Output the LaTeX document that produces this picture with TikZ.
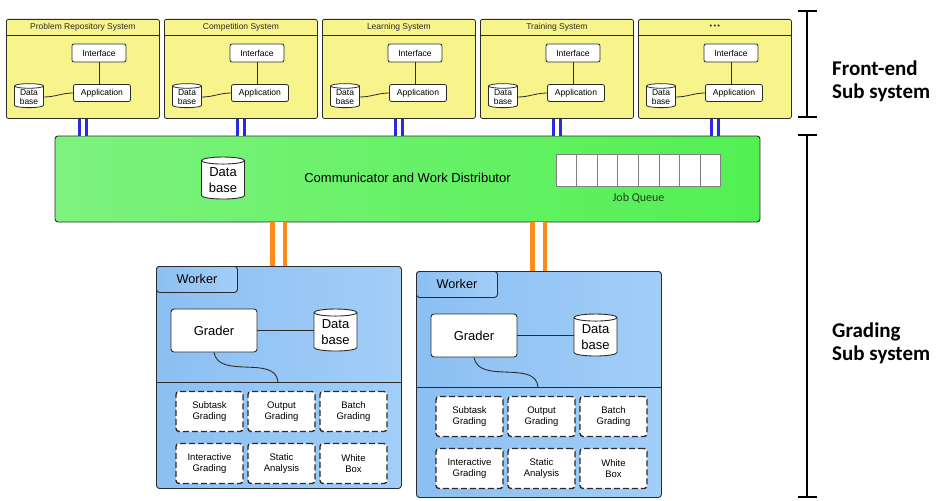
\documentclass[tikz,border=0pt]{standalone}
\usepackage{fontspec}
\setmainfont{Liberation Sans}
\newfontfamily\carlito{Carlito}
\usetikzlibrary{shapes.geometric,arrows.meta,positioning,calc}

\definecolor{sysyellow}{HTML}{F7F48C}
\definecolor{commgreen}{HTML}{52F052}
\definecolor{commlight}{HTML}{7EF27E}
\definecolor{workblue}{HTML}{8CBFF2}
\definecolor{worklight}{HTML}{A2CEF8}
\definecolor{linkblue}{HTML}{2A2AE6}
\definecolor{linkorange}{HTML}{FF8A1C}
\definecolor{edgegray}{HTML}{2B2B2B}
\definecolor{jobtext}{HTML}{1F3D1F}

\newcommand\sysdots{{\fontsize{7.5}{8}\selectfont\textbullet\,\textbullet\,\textbullet}}

\tikzset{
  sysbox/.style={draw=edgegray, fill=sysyellow, rounded corners=2pt, line width=0.8pt,
    minimum width=153pt, minimum height=99pt, inner sep=0pt},
  compbox/.style={draw=edgegray, fill=white, rounded corners=2pt, line width=0.8pt,
    inner sep=0pt, font=\fontsize{8.6}{10}\selectfont},
  dbsmall/.style={cylinder, shape border rotate=90, aspect=0.25, draw=edgegray, fill=white,
    line width=0.8pt, inner sep=0pt, minimum width=29pt, minimum height=24pt,
    align=center, font=\fontsize{8.5}{9.5}\selectfont},
  dbbig/.style={cylinder, shape border rotate=90, aspect=0.25, draw=edgegray, fill=white,
    line width=0.9pt, inner sep=0pt, minimum width=43pt, minimum height=42pt,
    align=center, font=\fontsize{13}{16}\selectfont},
  qcell/.style={draw=gray, fill=white, line width=0.8pt, minimum width=20.6pt,
    minimum height=32pt, inner sep=0pt},
  workbox/.style={draw=edgegray, left color=workblue, right color=worklight,
    rounded corners=3pt, line width=0.9pt, minimum width=245pt, inner sep=0pt},
  worktab/.style={draw=edgegray, left color=workblue, right color=worklight,
    rounded corners=3pt, line width=0.9pt, minimum width=81pt, minimum height=26pt,
    inner sep=0pt, font=\fontsize{12.7}{14}\selectfont},
  graderbox/.style={draw=edgegray, fill=white, rounded corners=3pt, line width=0.9pt,
    minimum width=86pt, minimum height=43pt, inner sep=0pt, font=\fontsize{13}{15}\selectfont},
  modbox/.style={draw=edgegray, fill=white, rounded corners=3pt, line width=1.4pt,
    dash pattern=on 6pt off 3pt, minimum width=67pt, minimum height=40pt, inner sep=0pt,
    align=center, font=\fontsize{9.5}{11.5}\selectfont},
  bluelink/.style={draw=linkblue, line width=3pt, double=white, double distance=4.5pt},
  orangelink/.style={draw=linkorange, line width=4.5pt, double=white, double distance=8pt},
  bracket/.style={line width=2.4pt, {Bar[width=19pt]}-{Bar[width=19pt]}},
  sublabel/.style={anchor=west, align=left, inner sep=0pt,
    font=\carlito\bfseries\fontsize{21}{23}\selectfont}
}

\begin{document}
\begin{tikzpicture}[x=1pt, y=-1pt]
  \useasboundingbox (0,0) rectangle (941,500);

  % Communicator
  \node[draw=edgegray, line width=0.9pt, rounded corners=3pt, shading=axis,
    left color=commlight, middle color=commgreen, right color=commgreen,
    minimum width=705pt, minimum height=86pt, inner sep=0pt,
    font=\fontsize{13}{15}\selectfont] (comm) at (407.5,179)
    {\raisebox{2pt}{Communicator and Work Distributor}};
  \node[dbbig] (cdb) at (223,180) {Data\\base};
  \foreach \k in {1,...,8}
    \node[qcell] (q\k) at (545.7+20.6*\k,170) {};
  \node[font=\carlito\fontsize{12}{14}\selectfont, text=jobtext] (jobq) at (638.5,198) {Job Queue};

  % Front-end systems
  \foreach \name [count=\i] in {Problem Repository System, Competition System,
      Learning System, Training System, \sysdots} {
    \pgfmathsetmacro\xl{6+158*(\i-1)}
    \node[sysbox, anchor=north west] (sys\i) at (\xl,19) {};
    \draw[edgegray, line width=0.8pt] ($(sys\i.north west)+(0,16)$) -- ($(sys\i.north east)+(0,16)$);
    \node[font=\fontsize{8.5}{10}\selectfont, text=edgegray] (title\i) at ($(sys\i.north)+(0,8)$) {\name};
    \node[compbox, minimum width=54pt, minimum height=18pt] (intf\i) at (\xl+93,53) {Interface};
    \node[compbox, minimum width=57pt, minimum height=17pt] (app\i) at (\xl+96,93) {Application};
    \node[dbsmall] (db\i) at (\xl+23,97) {Data\\base};
    \draw[edgegray, line width=0.8pt] (intf\i.south) -- (intf\i.south |- app\i.north);
    \draw[edgegray, line width=0.8pt] (db\i.east) to[out=0, in=180] (app\i.west);
    \draw[bluelink] (sys\i.south) -- (sys\i.south |- comm.north);
  }

  % Workers
  \foreach \wk/\xl/\yt/\hh in {1/156/266/222, 2/416/271/226} {
    \node[workbox, minimum height=\hh pt, anchor=north west] (work\wk) at (\xl,\yt) {};
    \node[worktab, anchor=north west] (tab\wk) at (work\wk.north west) {Worker};
    \draw[edgegray, line width=0.9pt] ($(work\wk.north west)+(0,116)$) -- ($(work\wk.north east)+(0,116)$);
    \coordinate (split\wk) at ($(work\wk.north west)+(122,116)$);
    \node[graderbox] (grader\wk) at ($(work\wk.north west)+(58,64.5)$) {Grader};
    \node[dbbig] (wdb\wk) at ($(work\wk.north west)+(179.5,66)$) {Data\\base};
    \draw[edgegray, line width=0.9pt] (grader\wk.east) -- (grader\wk.east -| wdb\wk.west);
    \draw[edgegray, line width=0.9pt] (grader\wk.south) to[out=-80, in=95] (split\wk);
    \foreach \lab [count=\j] in {Subtask\\Grading, Output\\Grading, Batch\\Grading,
        Interactive\\Grading, Static\\Analysis, White\\Box} {
      \pgfmathtruncatemacro\col{mod(\j-1,3)}
      \pgfmathtruncatemacro\row{(\j-1)/3}
      \node[modbox] (mod\wk-\j) at ($(work\wk.north west)+(53.5+72*\col,145.5+52*\row)$) {\lab};
    }
    \draw[orangelink] (comm.south -| work\wk.north) -- (work\wk.north);
  }

  % Sub system brackets
  \coordinate (fetop) at (807,10);
  \coordinate (febot) at (807,118);
  \coordinate (grtop) at (807,134);
  \coordinate (grbot) at (807,498);
  \draw[bracket] (fetop) -- (febot);
  \draw[bracket] (grtop) -- (grbot);
  \node[sublabel] (felabel) at (832,81) {Front-end\\Sub system};
  \node[sublabel] (grlabel) at (832,343) {Grading\\Sub system};
\end{tikzpicture}
\end{document}
